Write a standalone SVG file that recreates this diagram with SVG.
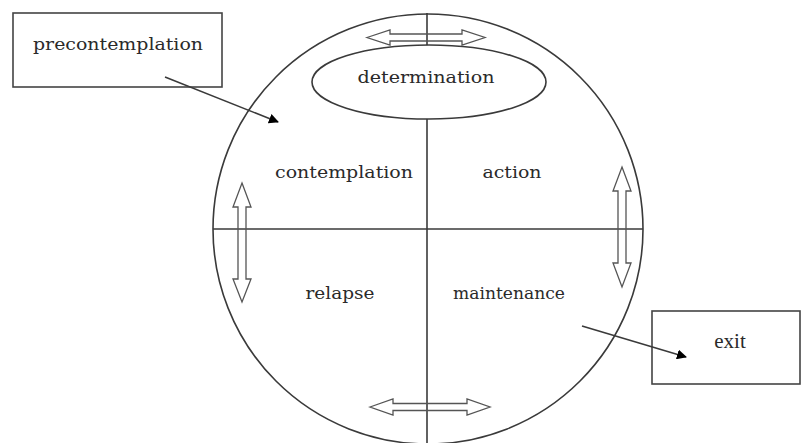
<svg xmlns="http://www.w3.org/2000/svg" width="801" height="443" viewBox="0 0 801 443">
<defs>
<style>
.ln{fill:none;stroke:#3a3a3a;stroke-width:1.6}
.box{fill:#fff;stroke:#444;stroke-width:1.6}
.dbl{fill:none;stroke:#555;stroke-width:1.3}
.lbl{font-family:"DejaVu Serif",serif;font-size:16px;fill:#2a2a2a;text-anchor:middle}
.lbl2{font-family:"Liberation Serif",serif;font-size:21px;fill:#2a2a2a;text-anchor:middle}
</style>
<marker id="ah" markerWidth="10" markerHeight="10" refX="9" refY="5" orient="auto" markerUnits="userSpaceOnUse"><path d="M0,0 L10,5 L0,10 Z" fill="#000"/></marker>
</defs>
<rect width="801" height="443" fill="#fff"/>
<g id="circle">
<circle class="ln" cx="428" cy="229" r="215"/>
<line class="ln" x1="427" y1="13" x2="427" y2="443"/>
<line class="ln" x1="213" y1="229" x2="643" y2="229"/>
</g>
<g id="determination">
<ellipse cx="429" cy="82" rx="117" ry="37" style="fill:#fff;stroke:#3a3a3a;stroke-width:1.6"/>
<text class="lbl" x="426" y="83" textLength="137" lengthAdjust="spacingAndGlyphs">determination</text>
</g>
<g id="contemplation"><text class="lbl" x="344" y="178" textLength="138" lengthAdjust="spacingAndGlyphs">contemplation</text></g>
<g id="action"><text class="lbl" x="512" y="178" textLength="59" lengthAdjust="spacingAndGlyphs">action</text></g>
<g id="relapse"><text class="lbl" x="340" y="299" textLength="69" lengthAdjust="spacingAndGlyphs">relapse</text></g>
<g id="maintenance"><text class="lbl" x="509" y="299" textLength="112" lengthAdjust="spacingAndGlyphs">maintenance</text></g>
<g id="precontemplation">
<rect class="box" x="13" y="13" width="209" height="74"/>
<text class="lbl" x="118" y="50" textLength="170" lengthAdjust="spacingAndGlyphs">precontemplation</text>
</g>
<g id="exit">
<rect class="box" x="652" y="311" width="148" height="73"/>
<text class="lbl2" x="730" y="348">exit</text>
</g>
<g id="connectors">
<line class="ln" x1="165" y1="77" x2="278" y2="122" marker-end="url(#ah)"/>
<line class="ln" x1="582" y1="326" x2="686" y2="357" marker-end="url(#ah)"/>
<path class="dbl" d="M367,37.5 L390,30 L390,34 L462,34 L462,30 L485,37.5 L462,45 L462,41 L390,41 L390,45 Z"/>
<path class="dbl" d="M370,407 L393,399 L393,403.5 L467,403.5 L467,399 L490,407 L467,415 L467,410.5 L393,410.5 L393,415 Z"/>
<path class="dbl" d="M242,183 L251,207 L246,207 L246,279 L251,279 L242,302 L233,279 L238,279 L238,207 L233,207 Z"/>
<path class="dbl" d="M622,167 L631,191 L626,191 L626,263 L631,263 L622,287 L613,263 L618,263 L618,191 L613,191 Z"/>
</g>
</svg>
